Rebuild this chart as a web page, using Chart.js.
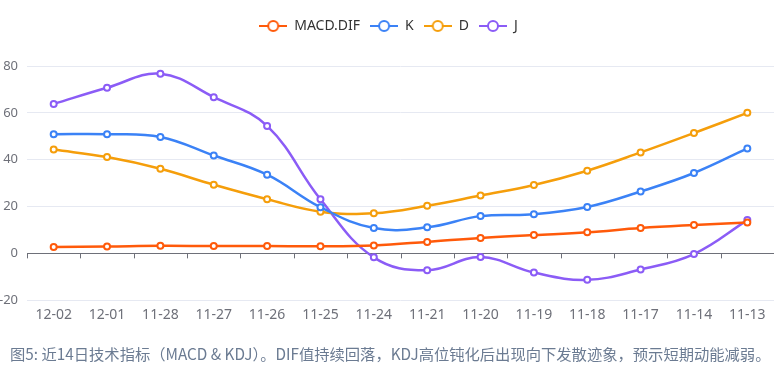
<!DOCTYPE html>
<html>
<head>
<meta charset="utf-8">
<script src="https://cdn.jsdelivr.net/npm/chart.js@4.4.1/dist/chart.umd.min.js"></script>
<style>
  html, body { margin: 0; padding: 0; background: #fff; overflow: hidden; }
  #wrap { position: relative; width: 780px; height: 369px; }
  #caption {
    position: absolute; left: 10px; top: 342px;
    font: 15.3px "Noto Sans CJK SC", "Noto Sans", sans-serif;
    color: #6b7b92; white-space: nowrap;
  }
</style>
</head>
<body>
<div id="wrap">
  <canvas id="chart" width="780" height="369"></canvas>
  <div id="caption">图5: 近14日技术指标（MACD &amp; KDJ）。DIF值持续回落，KDJ高位钝化后出现向下发散迹象，预示短期动能减弱。</div>
</div>
<script>
const dates = ['12-02', '12-01', '11-28', '11-27', '11-26', '11-25', '11-24', '11-21', '11-20', '11-19', '11-18', '11-17', '11-14', '11-13'];
const macdDif = [2.7, 2.9, 3.2, 3.1, 3.1, 3.0, 3.4, 4.9, 6.6, 7.8, 9.0, 10.8, 12.1, 13.2];
const kValues = [50.9, 50.9, 49.7, 41.8, 33.6, 19.7, 10.8, 11.1, 15.9, 16.7, 19.8, 26.4, 34.3, 44.8];
const dValues = [44.3, 41.1, 36.1, 29.3, 23.1, 17.8, 17.1, 20.3, 24.7, 29.2, 35.3, 43.1, 51.4, 60.0];
const jValues = [63.8, 70.7, 76.7, 66.7, 54.4, 23.1, -1.7, -7.2, -1.6, -8.2, -11.3, -6.9, -0.3, 14.2];

const seriesNames = ['MACD.DIF', 'K', 'D', 'J'];
const seriesColors = ['#ff5a0a', '#3b82f6', '#f59e0b', '#8b5cf6'];
const seriesData = [macdDif, kValues, dValues, jValues];

const FONT = '"Noto Sans", "Noto Sans CJK SC", sans-serif';

// legend icon: short line with a hollow circle
function legendIcon(color) {
  const c = document.createElement('canvas');
  c.width = 28; c.height = 14;
  const g = c.getContext('2d');
  g.strokeStyle = color;
  g.lineWidth = 2;
  g.beginPath(); g.moveTo(0, 7); g.lineTo(28, 7); g.stroke();
  g.beginPath(); g.arc(14, 7, 5, 0, Math.PI * 2);
  g.fillStyle = '#fff'; g.fill(); g.stroke();
  return c;
}

// small ticks on the zero line between categories
const zeroTicks = {
  id: 'zeroTicks',
  beforeDatasetsDraw(chart) {
    const { ctx, scales: { x, y } } = chart;
    const y0 = y.getPixelForValue(0);
    const step = x.width / dates.length;
    ctx.save();
    ctx.strokeStyle = '#6e7079';
    ctx.lineWidth = 1;
    ctx.beginPath();
    for (let i = 0; i <= dates.length; i++) {
      const px = Math.round(x.left + i * step) + 0.5;
      ctx.moveTo(px, y0);
      ctx.lineTo(px, y0 + 5);
    }
    ctx.stroke();
    ctx.restore();
  }
};

const datasets = seriesNames.map((name, i) => ({
  label: name,
  data: seriesData[i],
  borderColor: seriesColors[i],
  backgroundColor: '#fff',
  borderWidth: 2.5,
  pointRadius: 3,
  pointBorderWidth: 2,
  pointBackgroundColor: '#fff',
  pointBorderColor: seriesColors[i],
  tension: 0.4,
  fill: false,
}));

new Chart(document.getElementById('chart'), {
  type: 'line',
  data: { labels: dates, datasets },
  plugins: [zeroTicks],
  options: {
    responsive: false,
    animation: false,
    layout: { padding: { top: 9, right: 3, bottom: 40, left: 0 } },
    scales: {
      x: {
        offset: true,
        grid: { display: false, drawTicks: false },
        border: { display: false },
        ticks: { color: '#6e7079', padding: 6, font: { family: FONT, size: 14 }, maxRotation: 0, autoSkip: false },
      },
      y: {
        min: -20,
        max: 80,
        afterFit: s => { s.width = 27; },
        border: { display: false },
        grid: {
          drawTicks: false,
          color: ctx => ctx.tick && ctx.tick.value === 0 ? '#6e7079' : '#e6e9f2',
        },
        ticks: { stepSize: 20, color: '#6e7079', padding: 9, font: { family: FONT, size: 13 } },
      },
    },
    plugins: {
      // empty title used as a spacer between legend and plot
      title: { display: true, text: '', weight: 500, font: { size: 1, lineHeight: 1 }, padding: { top: 0, bottom: 22 } },
      legend: {
        position: 'top',
        labels: {
          color: '#333',
          usePointStyle: true,
          pointStyleWidth: 28,
          padding: 10,
          font: { family: FONT, size: 14 },
          generateLabels: chart => chart.data.datasets.map((ds, i) => ({
            text: ds.label,
            datasetIndex: i,
            pointStyle: legendIcon(ds.borderColor),
            fontColor: '#333',
            hidden: false,
            lineWidth: 0,
          })),
        },
      },
      tooltip: { enabled: false },
    },
  },
});
</script>
</body>
</html>
